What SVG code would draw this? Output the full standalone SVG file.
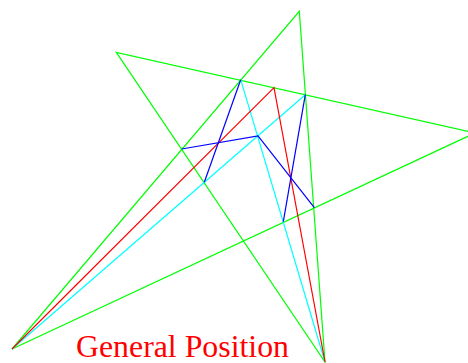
<svg xmlns="http://www.w3.org/2000/svg" width="468" height="363" viewBox="0 0 468 363">
<style>
.g{stroke:#00ff00;fill:none;stroke-width:1.2}
.b{stroke:#0000ff;fill:none;stroke-width:1.2}
.c{stroke:#00ffff;fill:none;stroke-width:1.2}
.r{stroke:#ff0000;fill:none;stroke-width:1.2}
.t{font-family:"Liberation Serif",serif;font-size:32px;fill:#ff0000}
</style>
<rect width="468" height="363" fill="#ffffff"/>
<g id="star">
<polygon class="g" points="12,349 299.3,11.3 325,362 116.3,52.3 475,133"/>
</g>
<g id="cyan">
<line class="c" x1="12" y1="349" x2="305.3" y2="94.7"/>
<line class="c" x1="240.7" y1="79.7" x2="325" y2="362"/>
</g>
<g id="red">
<polyline class="r" points="12,349 274,87.7 325,362"/>
</g>
<g id="blue">
<line class="b" x1="240.7" y1="79.7" x2="204.3" y2="182.3"/>
<polyline class="b" points="181.7,149 258,136 314.3,207.7"/>
<line class="b" x1="305.3" y1="94.7" x2="283.3" y2="221.7"/>
</g>
<g id="label">
<text class="t" x="76" y="357" textLength="213" lengthAdjust="spacingAndGlyphs">General Position</text>
</g>
</svg>
